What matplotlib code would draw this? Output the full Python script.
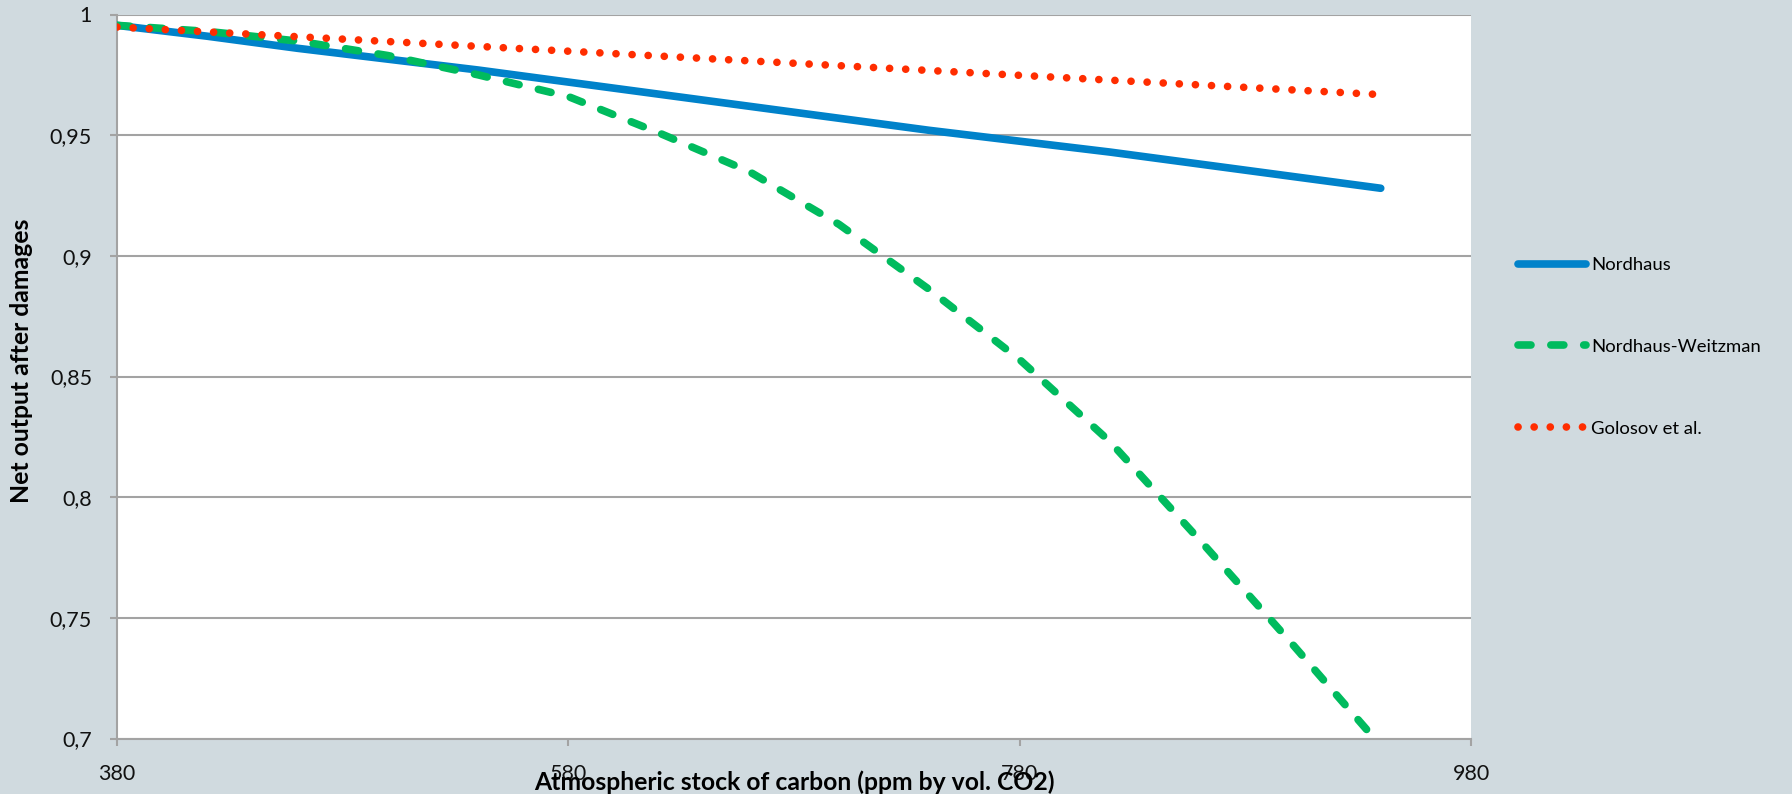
import numpy as np
import matplotlib
matplotlib.use('Agg')
from matplotlib import pyplot as plt

plt.rcParams['font.family'] = ['Lato', 'DejaVu Sans']

# atmospheric carbon stock (ppm by vol. CO2)
co2_ppm = [380, 420, 460, 500, 540, 580, 620, 660, 700, 740, 780, 820, 860, 900, 940]

# net output after damages
nordhaus = [0.9955, 0.991, 0.986, 0.9815, 0.977, 0.972, 0.967, 0.962,
            0.957, 0.952, 0.9475, 0.943, 0.938, 0.933, 0.928]
nordhaus_weitzman = [0.9955, 0.993, 0.989, 0.983, 0.975, 0.966, 0.951, 0.935,
                     0.913, 0.886, 0.857, 0.823, 0.782, 0.740, 0.697]
golosov = [0.9948, 0.9928, 0.9908, 0.9888, 0.9868, 0.9848, 0.9828, 0.9808,
           0.9788, 0.9768, 0.9748, 0.9728, 0.9708, 0.9688, 0.9668]

series_names = ['Nordhaus', 'Nordhaus-Weitzman', 'Golosov et al.']

x_ticks = [380, 580, 780, 980]
y_ticks = [0.7, 0.75, 0.8, 0.85, 0.9, 0.95, 1.0]
y_tick_labels = ['0,7', '0,75', '0,8', '0,85', '0,9', '0,95', '1']

bg = '#d0dadf'
grid_col = '#a3a3a3'

fig = plt.figure(figsize=(17.92, 7.94), dpi=100, facecolor=bg)
ax = fig.add_axes([117 / 1792, 1 - 738.5 / 794, (1471 - 117) / 1792, 724 / 794])
ax.set_facecolor('white')

lw = 5.5
ax.plot(co2_ppm, nordhaus, color='#0082ca', lw=lw, solid_capstyle='round',
        solid_joinstyle='round', label=series_names[0], zorder=3)
ax.plot(co2_ppm, nordhaus_weitzman, color='#00bb5e', lw=lw, dashes=(1.7, 2.6),
        dash_capstyle='round', label=series_names[1], zorder=4)
ax.plot(co2_ppm, golosov, color='#ff2d00', lw=lw, dashes=(0.01, 2.1),
        dash_capstyle='round', label=series_names[2], zorder=5)

ax.set_xlim(380, 980)
ax.set_ylim(0.7, 1.0)
ax.set_xticks(x_ticks)
ax.set_yticks(y_ticks)
ax.set_yticklabels(y_tick_labels)
ax.grid(axis='y', color=grid_col, lw=1.5)
ax.set_axisbelow(True)

for side in ['top', 'right']:
    ax.spines[side].set_visible(False)
for side in ['left', 'bottom']:
    ax.spines[side].set_color(grid_col)
    ax.spines[side].set_linewidth(1.5)

ax.tick_params(axis='both', direction='out', length=5, width=1.5, color=grid_col,
               labelsize=15.5, labelcolor='#111111', pad=13)

fig.text(22 / 1792, 1 - 361 / 794, 'Net output after damages', rotation=90,
         ha='center', va='center', fontsize=17.8, fontweight='bold')
fig.text(794 / 1792, 1 - 790 / 794, 'Atmospheric stock of carbon (ppm by vol. CO2)',
         ha='center', va='baseline', fontsize=17.8, fontweight='bold')

leg = fig.legend(loc='upper left', bbox_to_anchor=(1518 / 1792, 1 - 257 / 794),
                 frameon=False, fontsize=13.3, handlelength=3.7, handletextpad=0.25,
                 labelspacing=3.57, borderpad=0, borderaxespad=0)

fig.savefig('out.png', dpi=100, facecolor=bg)
